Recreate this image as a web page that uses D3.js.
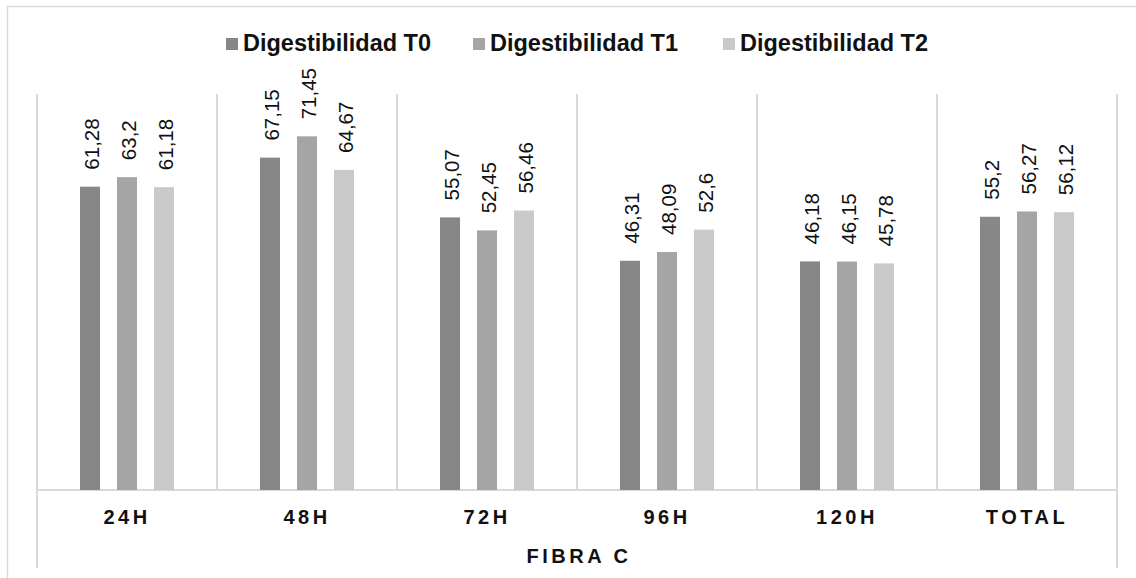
<!DOCTYPE html>
<html>
<head>
<meta charset="utf-8">
<script src="https://cdn.jsdelivr.net/npm/d3@7"></script>
<style>
  html, body { margin: 0; padding: 0; background: #fff; }
  svg { display: block; font-family: "Liberation Sans", Arial, sans-serif; }
</style>
</head>
<body>
<svg id="chart" width="1136" height="578"></svg>
<script>
const categories = ["24H", "48H", "72H", "96H", "120H", "TOTAL"];
const seriesNames = ["Digestibilidad T0", "Digestibilidad T1", "Digestibilidad T2"];
const valuesT0 = [61.28, 67.15, 55.07, 46.31, 46.18, 55.2];
const valuesT1 = [63.2, 71.45, 52.45, 48.09, 46.15, 56.27];
const valuesT2 = [61.18, 64.67, 56.46, 52.6, 45.78, 56.12];
const groupLabel = "FIBRA C";
const seriesColors = ["#878787", "#a5a5a5", "#c9c9c9"];

const seriesValues = [valuesT0, valuesT1, valuesT2];
const rows = [];
categories.forEach((c, i) => {
  seriesNames.forEach((s, j) => rows.push({ cat: c, series: s, value: seriesValues[j][i] }));
});

const svg = d3.select("#chart");
const W = 1136, H = 578;
const plot = { left: 37, right: 1117, top: 94, bottom: 490 };
const gridColor = "#d9d9d9";

// outer chart border (extends past right/bottom edges of the picture)
svg.append("rect")
  .attr("x", 7.5).attr("y", 6.5)
  .attr("width", W + 20).attr("height", H + 20)
  .attr("fill", "none").attr("stroke", gridColor).attr("stroke-width", 1.5);

const x = d3.scaleBand().domain(categories).range([plot.left, plot.right]).padding(0);
const y = d3.scaleLinear().domain([0, 80]).range([plot.bottom, plot.top]);
const step = 37, barW = 20;
const xs = d3.scaleBand().domain(seriesNames).range([-step * 1.5, step * 1.5]).padding(0);
const color = d3.scaleOrdinal().domain(seriesNames).range(seriesColors);

// vertical gridlines at category boundaries
const bounds = categories.map(c => x(c)).concat([x(categories[categories.length - 1]) + x.bandwidth()]);
svg.append("g").selectAll("line").data(bounds).join("line")
  .attr("x1", d => d).attr("x2", d => d)
  .attr("y1", plot.top)
  .attr("y2", (d, i) => (i === 0 || i === bounds.length - 1) ? 568 : plot.bottom)
  .attr("stroke", gridColor).attr("stroke-width", 2);

// category axis line
const xAxis = svg.append("g").attr("transform", `translate(0,${plot.bottom})`)
  .call(d3.axisBottom(x).tickSize(0).tickPadding(0));
xAxis.select(".domain").attr("stroke", gridColor).attr("stroke-width", 2)
  .attr("d", `M${plot.left},0H${plot.right}`);
xAxis.selectAll(".tick text")
  .attr("y", 34).attr("dy", 0)
  .attr("fill", "#111")
  .style("font-size", "20px").style("font-weight", "bold")
  .style("letter-spacing", "3.5px")
  .style("font-family", "'Liberation Sans', Arial, sans-serif");

// group label
svg.append("text")
  .attr("x", (plot.left + plot.right) / 2 + 2).attr("y", 563)
  .attr("text-anchor", "middle")
  .attr("fill", "#111")
  .style("font-size", "20px").style("font-weight", "bold").style("letter-spacing", "3.5px")
  .text(groupLabel);

// bars
const bars = svg.append("g");
bars.selectAll("rect").data(rows).join("rect")
  .attr("x", d => x(d.cat) + x.bandwidth() / 2 + xs(d.series) + (xs.bandwidth() - barW) / 2)
  .attr("width", barW)
  .attr("y", d => y(d.value))
  .attr("height", d => y(0) - y(d.value))
  .attr("fill", d => color(d.series));

// data labels (rotated)
const fmt = v => String(v).replace(".", ",");
svg.append("g").selectAll("text").data(rows).join("text")
  .attr("transform", d => {
    const cx = x(d.cat) + x.bandwidth() / 2 + xs(d.series) + xs.bandwidth() / 2 + 2;
    return `translate(${cx},${y(d.value) - 17}) rotate(-90)`;
  })
  .attr("text-anchor", "start")
  .attr("dy", "0.36em")
  .attr("fill", "#111")
  .style("font-size", "20.5px")
  .text(d => fmt(d.value));

// legend
const legendX = [226, 473, 723];
const lg = svg.append("g").selectAll("g").data(seriesNames).join("g")
  .attr("transform", (d, i) => `translate(${legendX[i]},0)`);
lg.append("rect").attr("x", 0).attr("y", 38).attr("width", 12).attr("height", 12)
  .attr("fill", d => color(d));
lg.append("text").attr("x", 17).attr("y", 51)
  .attr("fill", "#111")
  .style("font-size", "23.5px").style("font-weight", "bold")
  .text(d => d);
</script>
</body>
</html>
